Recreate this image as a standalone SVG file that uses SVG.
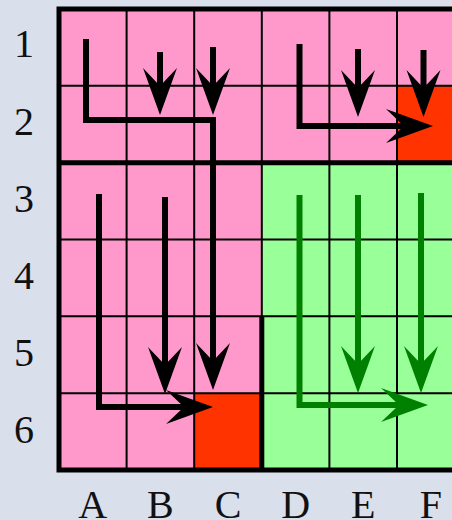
<svg xmlns="http://www.w3.org/2000/svg" width="452" height="520" viewBox="0 0 452 520">
<style>
.pink{fill:#FF99CC}
.green{fill:#99FF99}
.red{fill:#FF3300}
.thin{stroke:#000;stroke-width:2;fill:none}
.thick{stroke:#000;stroke-width:5;fill:none}
.arr{stroke:#000;stroke-width:6;fill:none;stroke-linejoin:miter;marker-end:url(#ah)}
.garr{stroke:#008000;stroke-width:6;fill:none;stroke-linejoin:miter;marker-end:url(#gah)}
.lbl{font-family:"Liberation Serif","Times New Roman",serif;font-size:40px;fill:#111;text-anchor:middle}
</style>
<defs>
<marker id="ah" viewBox="-48 -18 50 36" markerWidth="50" markerHeight="36" refX="-29" refY="0" orient="auto" markerUnits="userSpaceOnUse" overflow="visible"><path d="M0,0 L-47,-17 L-29,0 L-47,17 Z" fill="#000"/></marker>
<marker id="gah" viewBox="-48 -18 50 36" markerWidth="50" markerHeight="36" refX="-29" refY="0" orient="auto" markerUnits="userSpaceOnUse" overflow="visible"><path d="M0,0 L-47,-17 L-29,0 L-47,17 Z" fill="#008000"/></marker>
</defs>
<rect x="0" y="0" width="452" height="520" fill="#D9DFEB"/>
<g id="cells">
<rect class="pink" x="59" y="9" width="405.6" height="153.7"/>
<rect class="pink" x="59" y="162.7" width="202.8" height="307.3"/>
<rect class="green" x="261.8" y="162.7" width="202.8" height="307.3"/>
<rect class="red" x="397" y="85.8" width="67.6" height="76.9"/>
<rect class="red" x="194.2" y="393.2" width="67.6" height="76.8"/>
</g>
<g id="grid">
<path class="thin" d="M126.6,9V470M194.2,9V470M261.8,9V470M329.4,9V470M397,9V470M59,85.8H464.6M59,239.5H464.6M59,316.3H464.6M59,393.2H464.6"/>
<path class="thick" d="M59,162.7H464.6M261.8,316.3V470"/>
<rect class="thick" x="59" y="9" width="405.6" height="461"/>
</g>
<g id="connectors">
<path class="arr" d="M86,39V120H213V361"/>
<path class="arr" d="M160,52V86"/>
<path class="arr" d="M213,47V86"/>
<path class="arr" d="M299.5,44V126H404"/>
<path class="arr" d="M358,49V88"/>
<path class="arr" d="M423.5,50V88"/>
<path class="arr" d="M99,194V407H184"/>
<path class="arr" d="M165,197V365"/>
<path class="garr" d="M299.5,195V405H399"/>
<path class="garr" d="M358,195V364"/>
<path class="garr" d="M421,193V364"/>
</g>
<g id="labels">
<text class="lbl" x="24" y="57">1</text>
<text class="lbl" x="24" y="135">2</text>
<text class="lbl" x="24" y="212">3</text>
<text class="lbl" x="24" y="289">4</text>
<text class="lbl" x="24" y="366">5</text>
<text class="lbl" x="24" y="443">6</text>
<text class="lbl" x="92.8" y="518">A</text>
<text class="lbl" x="160.4" y="518">B</text>
<text class="lbl" x="228" y="518">C</text>
<text class="lbl" x="295.6" y="518">D</text>
<text class="lbl" x="363.2" y="518">E</text>
<text class="lbl" x="430.8" y="518">F</text>
</g>
</svg>
